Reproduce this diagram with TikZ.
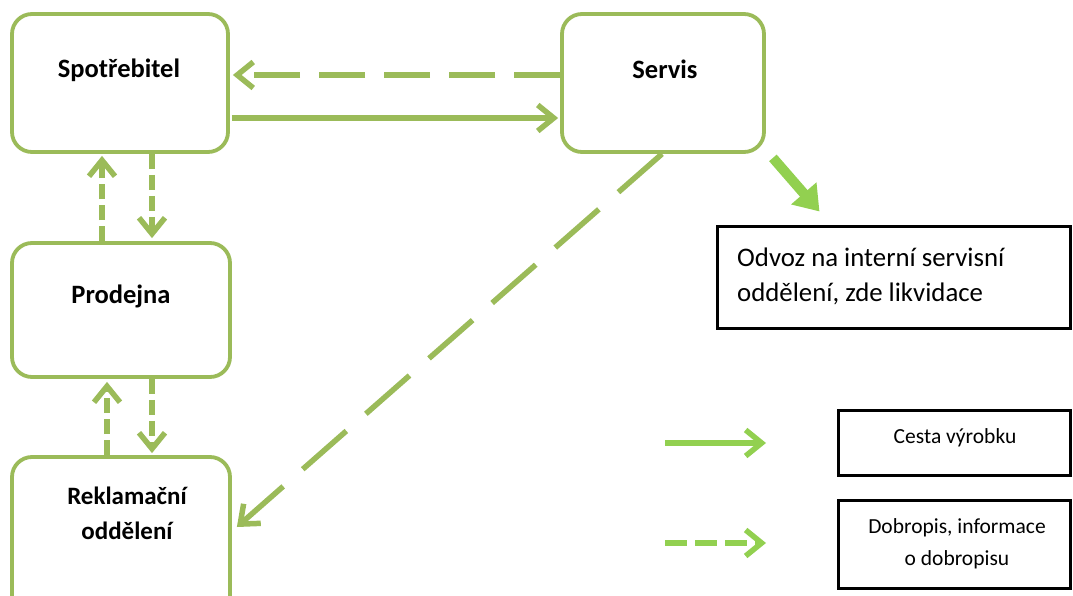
\documentclass[tikz,border=0pt]{standalone}
\usepackage{fontspec}
\setmainfont{Carlito}
\usetikzlibrary{arrows.meta,calc}
\definecolor{boxgreen}{HTML}{9BBB59}
\definecolor{brightgreen}{HTML}{92D050}
\tikzset{
  gbox/.style={draw=boxgreen, line width=3.8pt, rounded corners=20pt, fill=white, inner sep=0pt},
  bbox/.style={draw=black, line width=3pt, fill=white, inner sep=0pt},
  lbl/.style={font=\fontsize{26.5}{30}\selectfont\bfseries, inner sep=0pt},
  chev/.style={-{Straight Barb[length=16pt,width=26pt,line width=5.5pt]}},
  solidarr/.style={chev, draw=boxgreen, line width=5.5pt},
  darr/.style={chev, draw=boxgreen, line width=5.5pt, dash pattern=on 46pt off 19pt},
  sdarr/.style={chev, draw=boxgreen, line width=5.5pt, dash pattern=on 15pt off 6pt},
  ldarr/.style={chev, draw=boxgreen, line width=5.5pt, dash pattern=on 58pt off 26pt},
}
\begin{document}
\begin{tikzpicture}[x=1pt,y=-1pt]
\useasboundingbox (0,0) rectangle (1073,596);

% process boxes
\node[gbox, minimum width=216pt, minimum height=138pt] (sp) at (120,83) {};
\node[gbox, minimum width=202pt, minimum height=138pt] (sv) at (663,83) {};
\node[gbox, minimum width=218pt, minimum height=134pt] (pr) at (121,310) {};
\node[gbox, minimum width=218pt, minimum height=160pt] (rk) at (121,537) {};

\node[lbl] (tsp) at (119,70) {Spotřebitel};
\node[lbl] (tsv) at (665,69) {Servis};
\node[lbl] (tpr) at (121,296) {Prodejna};
\node[lbl, align=center, font=\fontsize{25}{35}\selectfont\bfseries] (trk) at (127,513) {Reklamační\\oddělení};

% disposal box
\node[bbox, minimum width=353pt, minimum height=102pt] (od) at (893.5,277) {};
\node[anchor=west, align=left, inner sep=0pt, font=\fontsize{26.8}{35}\selectfont] (tod) at (737,276) {Odvoz na interní servisní\\oddělení, zde likvidace};

% legend boxes
\node[bbox, minimum width=232pt, minimum height=65pt] (lg1) at (954,442.5) {};
\node[inner sep=0pt, font=\fontsize{21.5}{25}\selectfont] (tlg1) at (955,438) {Cesta výrobku};
\node[bbox, minimum width=232pt, minimum height=88pt] (lg2) at (954,544) {};
\node[inner sep=0pt, align=center, font=\fontsize{21.5}{32}\selectfont] (tlg2) at (957,544) {Dobropis, informace\\o dobropisu};

% connectors between the boxes
\draw[darr] ([yshift=8pt]sv.west) -- ([yshift=8pt,xshift=3pt]sp.east);
\draw[solidarr] ([yshift=-35pt,xshift=2pt]sp.east) -- ([yshift=-35pt,xshift=-2pt]sv.west);
\draw[sdarr] ([xshift=-18pt]sp.south |- pr.north) -- ([xshift=-18pt,yshift=-2pt]sp.south);
\draw[sdarr] ([xshift=32pt]sp.south) -- ([xshift=32pt,yshift=3pt]sp.south |- pr.north);
\draw[sdarr] ([xshift=-14pt]rk.north) -- ([xshift=-14pt,yshift=-3pt]pr.south);
\draw[sdarr] ([xshift=31pt]pr.south) -- ([xshift=31pt,yshift=2pt]rk.north);
\draw[ldarr] ([xshift=-1pt]sv.south) -- ([xshift=5pt,yshift=10pt]rk.east);

% disposal arrow
\draw[brightgreen, line width=10pt, -{Triangle[length=24pt,width=32pt]}]
  ($(sv.south east)+(7,4)$) -- ($(od.north)+(-74,-13)$);

% legend arrows
\coordinate (la1) at (665,443);
\coordinate (lb1) at (766,443);
\coordinate (la2) at (665,543);
\coordinate (lb2) at (766,543);
\draw[chev, brightgreen, line width=5.5pt] (la1) -- (lb1);
\draw[chev, brightgreen, line width=5.5pt, dash pattern=on 22pt off 8pt] (la2) -- (lb2);
\end{tikzpicture}
\end{document}
